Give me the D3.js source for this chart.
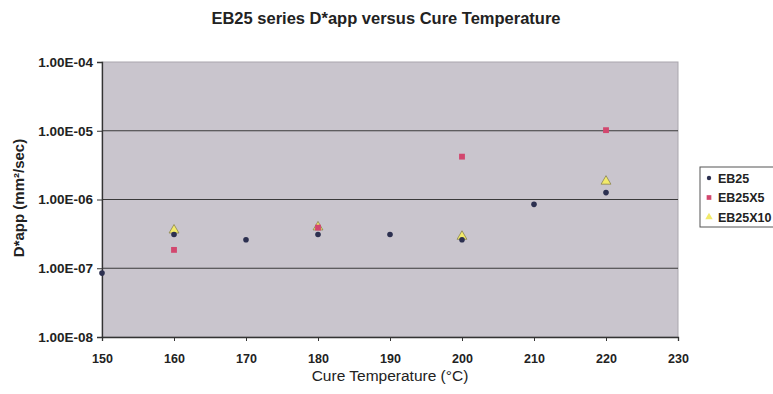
<!DOCTYPE html>
<html>
<head>
<meta charset="utf-8">
<script src="https://cdn.jsdelivr.net/npm/d3@7"></script>
<style>
  body { margin: 0; background: #fff; }
  text { font-family: "Liberation Sans", Arial, sans-serif; }
</style>
</head>
<body>
<script>
// chart data
var seriesNames = ["EB25", "EB25X5", "EB25X10"];
var eb25Temp = [150, 160, 170, 180, 190, 200, 210, 220];
var eb25Vals = [8.5e-8, 3.1e-7, 2.6e-7, 3.1e-7, 3.1e-7, 2.6e-7, 8.5e-7, 1.26e-6];
var eb25x5Temp = [160, 180, 200, 220];
var eb25x5Vals = [1.85e-7, 3.9e-7, 4.2e-6, 1.02e-5];
var eb25x10Temp = [160, 180, 200, 220];
var eb25x10Vals = [3.7e-7, 4.1e-7, 3.0e-7, 1.9e-6];
var xTicks = [150, 160, 170, 180, 190, 200, 210, 220, 230];
var yTicks = [1e-8, 1e-7, 1e-6, 1e-5, 1e-4];
var yTickLabels = ["1.00E-08", "1.00E-07", "1.00E-06", "1.00E-05", "1.00E-04"];

window.onload = function() {
    var w = 773, h = 394;
    var left = 102, right = 678, top = 62, bottom = 337;

    var svg = d3.select("body").append("svg")
        .attr("width", w)
        .attr("height", h);

    var x = d3.scaleLinear().domain([150, 230]).range([left, right]);
    var y = d3.scaleLog().domain([1e-8, 1e-4]).range([bottom, top]);

    // plot area
    svg.append("rect")
        .attr("x", left).attr("y", top)
        .attr("width", right - left).attr("height", bottom - top)
        .attr("fill", "#c9c5cd")
        .attr("stroke", "#a9a6ad");

    // horizontal gridlines
    svg.append("g").selectAll("line")
        .data(yTicks.slice(1, 4))
        .join("line")
        .attr("x1", left).attr("x2", right)
        .attr("y1", d => y(d)).attr("y2", d => y(d))
        .attr("stroke", "#3a3a3a").attr("stroke-width", 1.2);

    // axes
    var yAxis = svg.append("g")
        .attr("transform", "translate(" + left + ",0)")
        .call(d3.axisLeft(y).tickValues(yTicks)
            .tickFormat((d, i) => yTickLabels[i]).tickSize(5).tickPadding(4));
    var xAxis = svg.append("g")
        .attr("transform", "translate(0," + bottom + ")")
        .call(d3.axisBottom(x).tickValues(xTicks).tickSize(4).tickPadding(13));

    [yAxis, xAxis].forEach(function(a) {
        a.select(".domain").attr("stroke", "#333").attr("stroke-width", 1.3);
        a.selectAll(".tick line").attr("stroke", "#333");
        a.selectAll("text")
            .attr("fill", "#222")
            .style("font-weight", "bold");
    });
    yAxis.selectAll("text").style("font-size", "13.5px");
    xAxis.selectAll("text").style("font-size", "12.5px");

    // title and axis titles
    svg.append("text")
        .attr("x", 386).attr("y", 24)
        .attr("text-anchor", "middle")
        .style("font-size", "16.5px").style("font-weight", "bold")
        .attr("fill", "#222")
        .text("EB25 series D*app versus Cure Temperature");
    svg.append("text")
        .attr("x", 390).attr("y", 381)
        .attr("text-anchor", "middle")
        .style("font-size", "15.5px")
        .attr("fill", "#222")
        .text("Cure Temperature (°C)");
    svg.append("text")
        .attr("transform", "translate(24,198) rotate(-90)")
        .attr("text-anchor", "middle")
        .style("font-size", "15px").style("font-weight", "bold")
        .attr("fill", "#222")
        .text("D*app (mm²/sec)");

    // points
    var sym5 = d3.symbol().type(d3.symbolSquare).size(34);
    var sym10 = d3.symbol().type(d3.symbolTriangle).size(42);

    svg.append("g").selectAll("path")
        .data(d3.zip(eb25x10Temp, eb25x10Vals))
        .join("path")
        .attr("transform", d => "translate(" + x(d[0]) + "," + (y(d[1]) + 1) + ")")
        .attr("d", sym10)
        .attr("fill", "#f2ea6a").attr("stroke", "#8a8450").attr("stroke-width", 0.8);

    svg.append("g").selectAll("path")
        .data(d3.zip(eb25x5Temp, eb25x5Vals))
        .join("path")
        .attr("transform", d => "translate(" + x(d[0]) + "," + y(d[1]) + ")")
        .attr("d", sym5)
        .attr("fill", "#d2476e");

    svg.append("g").selectAll("circle")
        .data(d3.zip(eb25Temp, eb25Vals))
        .join("circle")
        .attr("cx", d => x(d[0])).attr("cy", d => y(d[1]))
        .attr("r", 2.8)
        .attr("fill", "#2c3050");

    // legend
    var lg = svg.append("g").attr("transform", "translate(700,167)");
    lg.append("rect")
        .attr("width", 80).attr("height", 60)
        .attr("fill", "#fff").attr("stroke", "#555");
    var items = lg.selectAll("g.item")
        .data(seriesNames)
        .join("g")
        .attr("class", "item")
        .attr("transform", (d, i) => "translate(9," + (11 + i * 19.5) + ")");
    items.each(function(d, i) {
        var g = d3.select(this);
        if (i === 0) g.append("circle").attr("r", 2.2).attr("fill", "#2c3050");
        if (i === 1) g.append("path").attr("d", d3.symbol().type(d3.symbolSquare).size(22)).attr("fill", "#d2476e");
        if (i === 2) g.append("path").attr("d", d3.symbol().type(d3.symbolTriangle).size(24)).attr("fill", "#f2ea6a");
    });
    items.append("text")
        .attr("x", 9).attr("y", 4.5)
        .style("font-size", "12.5px").style("font-weight", "bold")
        .attr("fill", "#222")
        .text(d => d);
};
</script>
</body>
</html>
